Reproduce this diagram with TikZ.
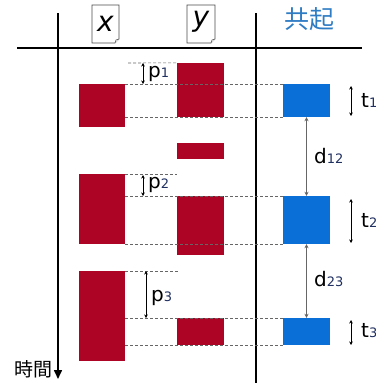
\documentclass[tikz,border=0pt]{standalone}
\usepackage{fontspec}
\setmainfont{DejaVu Sans}
\newfontfamily\cjk{Noto Sans CJK JP}
\usetikzlibrary{arrows.meta}
\definecolor{barred}{HTML}{AD0426}
\definecolor{barblue}{HTML}{0A6FD6}
\definecolor{headblue}{HTML}{2E7CC4}
\definecolor{subnavy}{HTML}{1F2F5F}
\newcommand{\sbs}[1]{{\fontsize{13}{13}\selectfont\color{subnavy}#1}}
\begin{document}
\begin{tikzpicture}[x=1pt,y=-1pt,
  redbox/.style={fill=barred,draw=none,inner sep=0pt,minimum width=46pt},
  bluebox/.style={fill=barblue,draw=none,inner sep=0pt,minimum width=47pt},
  guide/.style={densely dashed,draw=black!60,line width=0.6pt},
  axis/.style={line width=1.6pt,draw=black},
  parr/.style={{Stealth[length=3.5pt,width=3.5pt]}-{Stealth[length=3.5pt,width=3.5pt]},line width=0.7pt,draw=black},
  darr/.style={{Stealth[length=4pt,width=4pt]}-{Stealth[length=4pt,width=4pt]},line width=0.7pt,draw=black!60},
  lbl/.style={font=\fontsize{20}{22}\selectfont,inner sep=0pt,anchor=west},
  doc/.style={draw=black!70,line width=0.6pt,fill=white}
]
\clip (0,0) rectangle (375,383);
\fill[white] (0,0) rectangle (375,383);
% axes
\coordinate (hl) at (17,48); \coordinate (hr) at (362,48);
\draw[axis] (hl) -- (hr);
\coordinate (v1t) at (58,13); \coordinate (v1b) at (58,379);
\draw[axis,-{Triangle[length=9pt,width=8pt]}] (v1t) -- (v1b);
\coordinate (v2t) at (256,13); \coordinate (v2b) at (256,383);
\draw[axis] (v2t) -- (v2b);
% headers
\draw[doc] (92,5) -- (119,5) -- (119,39) -- (115,43) -- (92,43) -- cycle;
\draw[doc] (119,39) -- (116,40) -- (115,43);
\node[font=\fontsize{28}{30}\selectfont\itshape] (hx) at (105.5,24) {x};
\draw[doc] (187,5) -- (215,5) -- (215,39) -- (211,43) -- (187,43) -- cycle;
\draw[doc] (215,39) -- (212,40) -- (211,43);
\node[font=\fontsize{28}{30}\selectfont\itshape] (hy) at (201,22) {y};
\node[font=\cjk\fontsize{25}{27}\selectfont,text=headblue] (hc) at (309,19) {共起};
\node[font=\cjk\fontsize{19}{21}\selectfont,anchor=east,inner sep=0pt] (time) at (53,369) {時間};
% boxes
\node[redbox,minimum height=43pt] (xb1) at (102,105.5) {};
\node[redbox,minimum height=70pt] (xb2) at (102,209) {};
\node[redbox,minimum height=90pt] (xb3) at (102,316) {};
\node[redbox,minimum width=47pt,minimum height=54pt] (yb1) at (200.5,90) {};
\node[redbox,minimum width=47pt,minimum height=16pt] (yb2) at (200.5,151) {};
\node[redbox,minimum width=47pt,minimum height=59pt] (yb3) at (200.5,225.5) {};
\node[redbox,minimum width=47pt,minimum height=27pt] (yb4) at (200.5,331.5) {};
\node[bluebox,minimum height=33pt] (bb1) at (306.5,100.5) {};
\node[bluebox,minimum height=48pt] (bb2) at (306.5,220) {};
\node[bluebox,minimum height=27pt] (bb3) at (306.5,331.5) {};
% guides set 1
\coordinate (g1a) at (128,63);
\draw[guide] (g1a) -- (yb1.north west);
\draw[guide] (xb1.north east) -- (bb1.north west);
\draw[guide] (xb1.east |- bb1.south) -- (bb1.south west);
% guides set 2
\draw[guide] (xb2.north east) -- (yb3.west |- xb2.north);
\draw[guide] (xb2.east |- yb3.north) -- (bb2.north west);
\draw[guide] (xb2.south east) -- (bb2.south west);
% guides set 3
\coordinate (g3a) at (179,271);
\draw[guide] (xb3.north east) -- (g3a |- xb3.north);
\draw[guide] (xb3.east |- yb4.north) -- (bb3.north west);
\draw[guide] (xb3.east |- yb4.south) -- (bb3.south west);
% p arrows
\coordinate (p1a) at (143,63); \coordinate (p1b) at (143,84);
\draw[parr] (p1a) -- (p1b);
\node[lbl] (p1) at (148,74) {p\sbs{1}};
\coordinate (p2a) at (143,175); \coordinate (p2b) at (143,196);
\draw[parr] (p2a) -- (p2b);
\node[lbl] (p2) at (148,185) {p\sbs{2}};
\coordinate (p3a) at (146,271); \coordinate (p3b) at (146,318);
\draw[parr] (p3a) -- (p3b);
\node[lbl] (p3) at (151,298) {p\sbs{3}};
% d arrows
\draw[darr] (bb1.south) -- (bb2.north);
\node[lbl] (d12) at (314,156) {d\sbs{12}};
\draw[darr] (bb2.south) -- (bb3.north);
\node[lbl] (d23) at (314,279) {d\sbs{23}};
% t arrows
\coordinate (t1a) at (351,86); \coordinate (t1b) at (351,116);
\draw[parr] (t1a) -- (t1b);
\node[lbl] (t1) at (361,100) {t\sbs{1}};
\coordinate (t2a) at (351,199); \coordinate (t2b) at (351,243);
\draw[parr] (t2a) -- (t2b);
\node[lbl] (t2) at (361,220) {t\sbs{2}};
\coordinate (t3a) at (351,320); \coordinate (t3b) at (351,345);
\draw[parr] (t3a) -- (t3b);
\node[lbl] (t3) at (361,331) {t\sbs{3}};
\end{tikzpicture}
\end{document}
